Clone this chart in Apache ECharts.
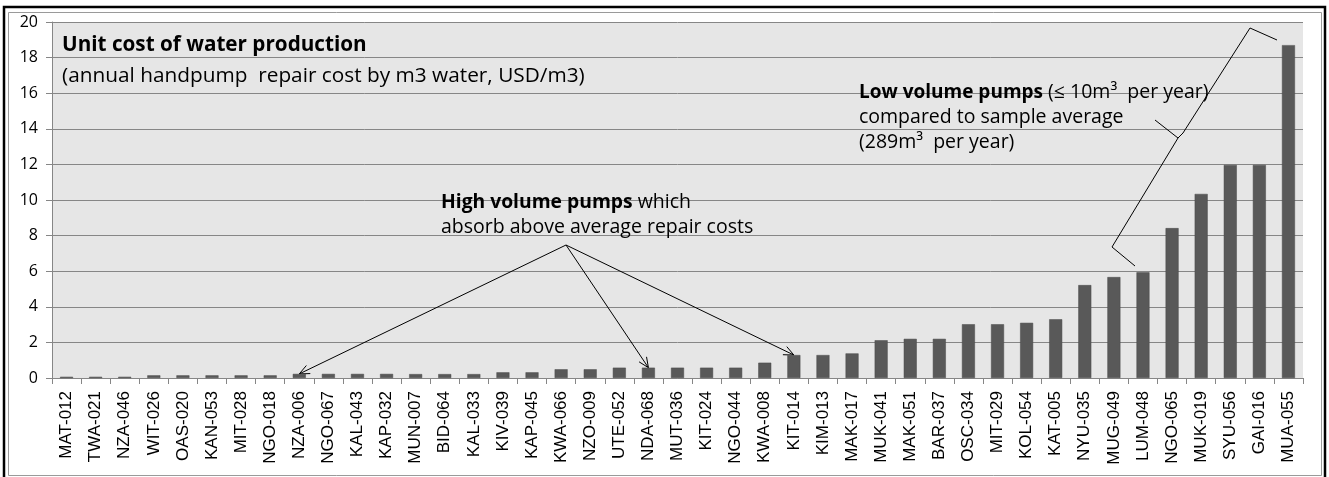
<!DOCTYPE html>
<html>
<head>
<meta charset="utf-8">
<script src="https://cdn.jsdelivr.net/npm/echarts@6/dist/echarts.min.js"></script>
<style>
  html, body { margin: 0; padding: 0; background: #fff; }
  #chart { width: 1329px; height: 477px; }
</style>
</head>
<body>
<div id="chart"></div>
<script>
// pump codes, sorted by unit cost
const pumps = ['MAT-012', 'TWA-021', 'NZA-046', 'WIT-026', 'OAS-020', 'KAN-053', 'MIT-028', 'NGO-018',
  'NZA-006', 'NGO-067', 'KAL-043', 'KAP-032', 'MUN-007', 'BID-064', 'KAL-033', 'KIV-039', 'KAP-045',
  'KWA-066', 'NZO-009', 'UTE-052', 'NDA-068', 'MUT-036', 'KIT-024', 'NGO-044', 'KWA-008', 'KIT-014',
  'KIM-013', 'MAK-017', 'MUK-041', 'MAK-051', 'BAR-037', 'OSC-034', 'MIT-029', 'KOL-054', 'KAT-005',
  'NYU-035', 'MUG-049', 'LUM-048', 'NGO-065', 'MUK-019', 'SYU-056', 'GAI-016', 'MUA-055']

// USD per m3
const unitCost = [0.07, 0.07, 0.07, 0.15, 0.15, 0.15, 0.15, 0.15,
  0.23, 0.23, 0.23, 0.23, 0.22, 0.22, 0.22, 0.32, 0.32,
  0.49, 0.49, 0.58, 0.58, 0.58, 0.58, 0.58, 0.86, 1.29,
  1.29, 1.38, 2.12, 2.2, 2.2, 3.02, 3.02, 3.1, 3.3,
  5.22, 5.67, 5.94, 8.42, 10.34, 11.97, 11.97, 18.7]

const yTicks = { min: 0, max: 20, interval: 2 }

// pumps pointed at by the "high volume" arrows
const highVolume = ['NZA-006', 'NDA-068', 'KIT-014']

const chart = echarts.init(document.getElementById('chart'))

const option = {
  animation: false,
  grid: { left: 52, right: 26, top: 22, bottom: 99, show: true, backgroundColor: '#e6e6e6', borderWidth: 0 },
  xAxis: {
    type: 'category',
    data: pumps,
    axisLine: { lineStyle: { color: '#868686', width: 1 } },
    axisTick: { show: true, length: 6, lineStyle: { color: '#868686' } },
    axisLabel: {
      rotate: 90, interval: 0, margin: 13,
      fontFamily: 'Liberation Sans', fontSize: 17, color: '#000'
    }
  },
  yAxis: {
    type: 'value',
    min: yTicks.min, max: yTicks.max, interval: yTicks.interval,
    axisLine: { show: true, lineStyle: { color: '#868686' } },
    axisTick: { show: true, length: 6, lineStyle: { color: '#868686' } },
    axisLabel: { fontFamily: 'Open Sans', fontSize: 16, color: '#000', margin: 14 },
    splitLine: { lineStyle: { color: '#868686', width: 1 } }
  },
  series: [{
    type: 'bar',
    data: unitCost,
    barWidth: 13,
    itemStyle: { color: '#595959', borderColor: '#4a4a4a', borderWidth: 0.5 }
  }]
}
chart.setOption(option)

// open V arrowhead at the end of a straight line
function arrow(x1, y1, x2, y2) {
  const a = Math.atan2(y2 - y1, x2 - x1)
  const len = 11, spread = 0.42
  const style = { stroke: '#000', lineWidth: 1 }
  return [
    { type: 'line', shape: { x1, y1, x2, y2 }, style },
    { type: 'line', shape: { x1: x2, y1: y2, x2: x2 - len * Math.cos(a - spread), y2: y2 - len * Math.sin(a - spread) }, style },
    { type: 'line', shape: { x1: x2, y1: y2, x2: x2 - len * Math.cos(a + spread), y2: y2 - len * Math.sin(a + spread) }, style }
  ]
}

const origin = [566, 245]
const arrows = []
highVolume.forEach(code => {
  const i = pumps.indexOf(code)
  const p = chart.convertToPixel({ seriesIndex: 0 }, [i, unitCost[i]])
  arrows.push(...arrow(origin[0], origin[1], p[0], p[1]))
})

const braceStyle = { stroke: '#000', lineWidth: 1, fill: null }

chart.setOption({
  graphic: [
    // outer frame
    { type: 'rect', shape: { x: 4, y: 7, width: 1321, height: 475 }, style: { stroke: '#000', lineWidth: 2.5, fill: null }, silent: true },
    { type: 'rect', shape: { x: 8.5, y: 12.5, width: 1313, height: 463 }, style: { stroke: '#9a9a9a', lineWidth: 1, fill: null }, silent: true },
    {
      type: 'text', left: 62, top: 35,
      style: { text: 'Unit cost of water production', font: 'bold 20.7px "Open Sans"', fill: '#000' }
    },
    {
      type: 'text', left: 62, top: 66,
      style: { text: '(annual handpump  repair cost by m3 water, USD/m3)', font: '20.8px "Open Sans"', fill: '#000' }
    },
    {
      type: 'text', left: 441, top: 190,
      style: {
        text: '{b|High volume pumps} which\nabsorb above average repair costs',
        font: '19.5px "Open Sans"', fill: '#000', lineHeight: 25,
        rich: { b: { font: 'bold 19.3px "Open Sans"', fill: '#000', lineHeight: 25 } }
      }
    },
    {
      type: 'text', left: 859, top: 80,
      style: {
        text: '{b|Low volume pumps} (≤ 10m³  per year)\ncompared to sample average\n(289m³  per year)',
        font: '19.5px "Open Sans"', fill: '#000', lineHeight: 25,
        rich: { b: { font: 'bold 19px "Open Sans"', fill: '#000', lineHeight: 25 } }
      }
    },
    // brace around the low volume pumps
    { type: 'polyline', shape: { points: [[1135, 266], [1112, 247], [1178, 138], [1155, 120]] }, style: braceStyle },
    { type: 'polyline', shape: { points: [[1178, 138], [1183, 133], [1250, 28], [1277, 40]] }, style: braceStyle },
    ...arrows
  ]
})
</script>
</body>
</html>
